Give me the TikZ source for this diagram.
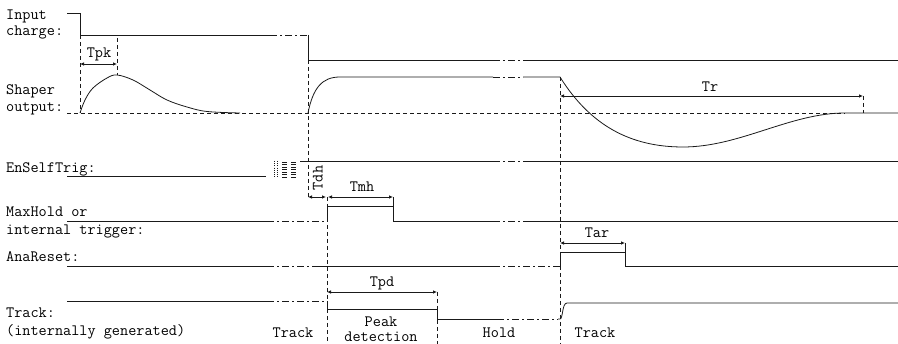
\documentclass[tikz,border=0pt]{standalone}
\usetikzlibrary{arrows.meta}
\definecolor{cizgi}{HTML}{1A1A1A}

\tikzset{
  sig/.style={cizgi,line width=0.8pt},
  brk/.style={cizgi,line width=0.8pt,dash pattern=on 7pt off 3pt on 2pt off 3pt},
  guide/.style={cizgi,line width=0.8pt,dash pattern=on 4pt off 3pt},
  dim/.style={cizgi,line width=0.8pt,{Latex[length=4pt,width=3.6pt]}-{Latex[length=4pt,width=3.6pt]}},
  lbl/.style={font=\ttfamily\fontsize{15.8}{17}\selectfont,inner sep=0pt,text height=9pt,text depth=0pt}
}

\begin{document}
\begin{tikzpicture}[x=1pt,y=-1pt]
\useasboundingbox (0,0) rectangle (898,344);
% signal names
\node[lbl,anchor=west] (inp1) at (6,15) {Input};
\node[lbl,anchor=west] (inp2) at (6,31) {charge:};
\node[lbl,anchor=west] (shp1) at (6,90) {Shaper};
\node[lbl,anchor=west] (shp2) at (6,107) {output:};
\node[lbl,anchor=west] (est) at (6,168) {EnSelfTrig:};
\node[lbl,anchor=west] (mh1) at (6,212) {MaxHold or};
\node[lbl,anchor=west] (mh2) at (6,230) {internal trigger:};
\node[lbl,anchor=west] (ars) at (6,257) {AnaReset:};
\node[lbl,anchor=west] (trk1) at (6,313) {Track:};
\node[lbl,anchor=west] (trk2) at (6,331) {(internally generated)};
% input charge
\draw[sig] (67,13) -- (80,13) -- (80,35) -- (270,35);
\draw[brk] (270,35) -- (308,35);
\draw[sig] (308,35) -- (308,60) -- (493,60);
\draw[brk] (493,60) -- (523,60);
\draw[sig] (523,60) -- (898,60);
% shaper output
\draw[guide] (67,113) -- (845,113);
\draw[sig] plot[smooth,tension=0.6] coordinates {(80,113) (85,100) (93,88) (107,78) (117,75)
  (133,80) (150,90) (167,100) (187,107) (207,111.5) (240,113)};
\draw[sig] (308,113) .. controls (313,88) and (322,77) .. (340,77) -- (493,77);
\draw[brk] (493,77) -- (523,77);
\draw[sig] (523,77) -- (560,77) .. controls (590,125) and (630,147) .. (683,147)
  .. controls (740,147) and (790,113) .. (845,113) -- (898,113);
% EnSelfTrig
\draw[sig] (67,176) -- (266,176);
\foreach \hx in {274,277}
  \draw[cizgi,line width=0.7pt,dash pattern=on 1pt off 1.2pt] (\hx,161) -- (\hx,177);
\foreach \hy in {162,164.5,...,177} {
  \draw[cizgi,line width=0.7pt] (282,\hy) -- (287,\hy);
  \draw[cizgi,line width=0.7pt] (291,\hy) -- (296,\hy);
}
\draw[sig] (300,161) -- (493,161);
\draw[brk] (493,161) -- (523,161);
\draw[sig] (523,161) -- (898,161);
% MaxHold
\draw[sig] (67,221) -- (267,221);
\draw[brk] (267,221) -- (327,221);
\draw[sig] (327,221) -- (327,206) -- (393,206) -- (393,221) -- (493,221);
\draw[sig] (393,197) -- (393,206);
\draw[brk] (493,221) -- (523,221);
\draw[sig] (523,221) -- (898,221);
% AnaReset
\draw[sig] (67,266) -- (267,266);
\draw[brk] (267,266) -- (315,266);
\draw[sig] (315,266) -- (493,266);
\draw[brk] (493,266) -- (557,266);
\draw[sig] (557,266) -- (560,266) -- (560,252) -- (625,252) -- (625,266) -- (898,266);
\draw[sig] (625,243) -- (625,252);
% Track
\draw[sig] (67,301) -- (267,301);
\draw[brk] (267,301) -- (327,301);
\draw[sig] (327,301) -- (327,309) -- (437,309) -- (437,319) -- (497,319);
\draw[brk] (497,319) -- (558,319);
\draw[sig] (558,319) -- (560,319) .. controls (563,319) and (562,303) .. (567,303) -- (898,303);
% guides
\draw[guide] (80,35) -- (80,113);
\draw[guide] (117,38) -- (117,75);
\draw[guide] (308,60) -- (308,197);
\draw[guide] (327,197) -- (327,344);
\draw[guide] (437,292) -- (437,344);
\draw[guide] (560,77) -- (560,344);
\draw[guide] (863,96) -- (863,113);
% time intervals
\draw[dim] (80,64) -- (117,64);
\draw[dim] (308,197) -- (326,197);
\draw[dim] (328,197) -- (393,197);
\draw[dim] (327,292) -- (437,292);
\draw[dim] (560,243) -- (625,243);
\draw[dim] (560,96) -- (863,96);
\node[lbl] (tpk) at (99,53) {Tpk};
\node[lbl,rotate=90] (tdh) at (318,178) {Tdh};
\node[lbl] (tmh) at (362,187) {Tmh};
\node[lbl] (tpd) at (382,282) {Tpd};
\node[lbl] (tar) at (597,233) {Tar};
\node[lbl] (tr) at (710,87) {Tr};
% phases
\node[lbl] (ph1) at (293,333) {Track};
\node[lbl] (ph2) at (381,322) {Peak};
\node[lbl] (ph3) at (381,337) {detection};
\node[lbl] (ph4) at (499,333) {Hold};
\node[lbl] (ph5) at (595,333) {Track};
\end{tikzpicture}
\end{document}
